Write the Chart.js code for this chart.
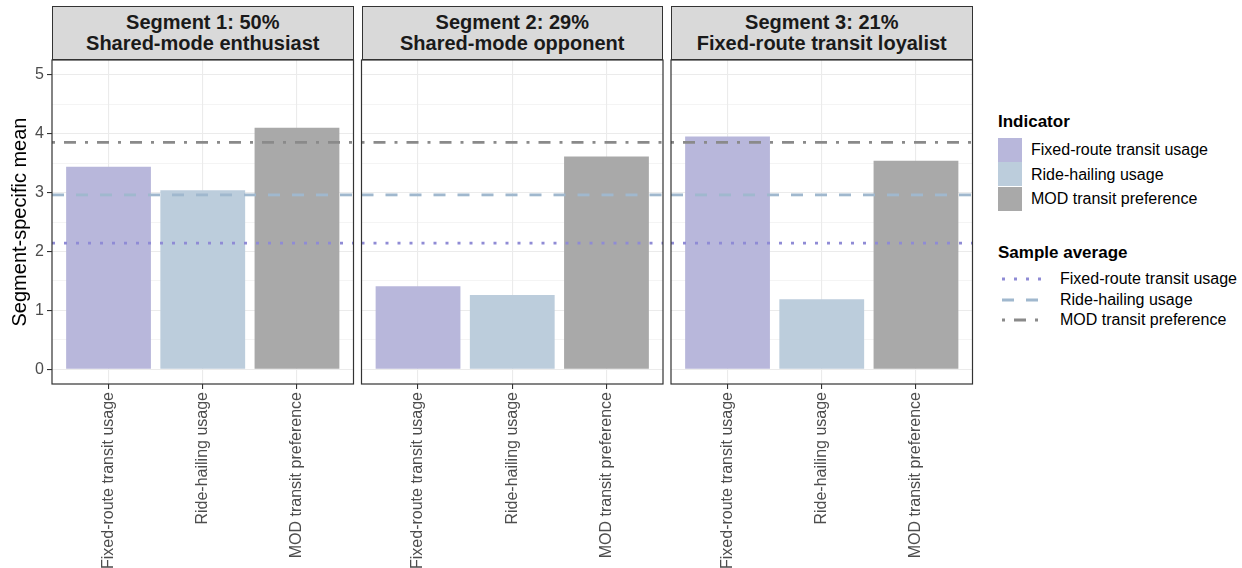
<!DOCTYPE html>
<html><head><meta charset="utf-8">
<script src="https://cdn.jsdelivr.net/npm/chart.js@4.4.1/dist/chart.umd.min.js"></script>
<style>
html,body{margin:0;padding:0;background:#fff;}
body{width:1242px;height:568px;overflow:hidden;position:relative;font-family:"Liberation Sans",Arial,sans-serif;}
.strip{position:absolute;top:6px;height:54px;box-sizing:border-box;border:1.2px solid #333;background:#d9d9d9;display:flex;flex-direction:column;justify-content:center;align-items:center;font-weight:bold;font-size:20px;line-height:21px;color:#1a1a1a;white-space:nowrap;}
canvas{position:absolute;}
.leg-title{position:absolute;left:998px;font-weight:bold;font-size:17px;line-height:17px;color:#000;white-space:nowrap;}
.leg-key{position:absolute;left:998px;width:24px;height:24px;}
.leg-lab{position:absolute;font-size:16px;line-height:16px;color:#000;white-space:nowrap;}
svg{position:absolute;}
</style></head><body>
<script>
// ---------- data ----------
const categories = ['Fixed-route transit usage', 'Ride-hailing usage', 'MOD transit preference'];
const segmentNames = ['Segment 1: 50%', 'Segment 2: 29%', 'Segment 3: 21%'];
const segmentLabels = ['Shared-mode enthusiast', 'Shared-mode opponent', 'Fixed-route transit loyalist'];
const segment1 = [3.44, 3.04, 4.10];
const segment2 = [1.41, 1.26, 3.61];
const segment3 = [3.95, 1.19, 3.54];
const sampleAverage = [2.14, 2.96, 3.85];
const yTicks = [0, 1, 2, 3, 4, 5];
const yMinorTicks = [0.5, 1.5, 2.5, 3.5, 4.5];
const yAxisTitle = 'Segment-specific mean';
const legendTitle1 = 'Indicator';
const legendTitle2 = 'Sample average';

// ---------- styles ----------
const barColors = ['#b8b7db', '#bccddc', '#a9a9a9'];
const lineColors = ['#8f8bd5', '#a0b8ce', '#8a8a8a'];
const lineDashes = [[3, 9], [12, 12], [3, 9, 12, 9]];
const FONT = '"Liberation Sans", Arial, sans-serif';
Chart.defaults.font.family = FONT;

const xMin = 0.4, xMax = 3.6, yMin = -0.25, yMax = 5.25;
const panelW = 301.5;
const panels = [
  {data: segment1, stripLeft: 52, canvasLeft: 0, canvasW: 358, offL: 52, withAxis: true},
  {data: segment2, stripLeft: 361.5, canvasLeft: 356, canvasW: 311, offL: 5.5, withAxis: false},
  {data: segment3, stripLeft: 671, canvasLeft: 666, canvasW: 311, offL: 5, withAxis: false}
];
const canvasTop = 50, canvasH = 518, padTop = 10, plotH = 324;

const borderPlugin = {
  id: 'panelBorder',
  afterDraw(chart) {
    const {left, top, right, bottom} = chart.chartArea;
    const ctx = chart.ctx;
    ctx.save();
    ctx.strokeStyle = '#333333';
    ctx.lineWidth = 1.2;
    ctx.strokeRect(left, top, right - left, bottom - top);
    ctx.restore();
  }
};

panels.forEach((p, idx) => {
  const strip = document.createElement('div');
  strip.className = 'strip';
  strip.style.left = p.stripLeft + 'px';
  strip.style.width = panelW + 'px';
  strip.innerHTML = '<div>' + segmentNames[idx] + '</div><div>' + segmentLabels[idx] + '</div>';
  document.body.appendChild(strip);

  const cv = document.createElement('canvas');
  cv.width = p.canvasW; cv.height = canvasH;
  cv.style.left = p.canvasLeft + 'px'; cv.style.top = canvasTop + 'px';
  cv.style.width = p.canvasW + 'px'; cv.style.height = canvasH + 'px';
  document.body.appendChild(cv);

  const lineSets = sampleAverage.map((v, i) => ({
    type: 'line',
    data: [{x: xMin, y: v}, {x: xMax, y: v}],
    borderColor: lineColors[i],
    borderDash: lineDashes[i],
    borderWidth: 2.8,
    borderCapStyle: 'butt',
    pointRadius: 0,
    fill: false,
    order: 0
  }));

  new Chart(cv, {
    type: 'bar',
    data: {
      datasets: [
        ...lineSets,
        {
          type: 'bar',
          data: p.data.map((v, i) => ({x: i + 1, y: v})),
          backgroundColor: barColors,
          borderWidth: 0,
          categoryPercentage: 1,
          barPercentage: 0.9,
          order: 1
        }
      ]
    },
    options: {
      responsive: false,
      animation: false,
      devicePixelRatio: 1,
      layout: {padding: {left: p.withAxis ? 0 : p.offL, right: p.canvasW - p.offL - panelW, top: padTop, bottom: 0}},
      plugins: {legend: {display: false}, tooltip: {enabled: false}},
      scales: {
        x: {
          type: 'linear',
          min: xMin, max: xMax,
          offset: false,
          afterBuildTicks: s => { s.ticks = categories.map((c, i) => ({value: i + 1})); },
          afterFit: s => { s.height = canvasH - padTop - plotH; s.paddingLeft = 0; s.paddingRight = 0; },
          border: {display: false},
          grid: {offset: false, color: '#ebebeb', lineWidth: 1.1, tickLength: 5, tickColor: '#333333', tickWidth: 1.1},
          ticks: {
            autoSkip: false, minRotation: 90, maxRotation: 90, padding: 3,
            color: '#4d4d4d', font: {size: 16},
            callback: v => categories[Math.round(v) - 1]
          }
        },
        y: {
          type: 'linear',
          min: yMin, max: yMax,
          afterBuildTicks: s => { s.ticks = [...yTicks, ...yMinorTicks].sort((a, b) => a - b).map(v => ({value: v})); },
          afterFit: s => { s.width = p.withAxis ? p.offL : 0; s.paddingTop = 0; s.paddingBottom = 0; },
          border: {display: false},
          title: {display: p.withAxis, text: yAxisTitle, color: '#000', font: {size: 20}, padding: {top: 8, bottom: 0}},
          grid: {
            color: '#ebebeb',
            lineWidth: c => yTicks.includes(c.tick.value) ? 1.1 : 0.55,
            drawTicks: p.withAxis,
            tickLength: 5,
            tickWidth: 1.1,
            tickColor: c => yTicks.includes(c.tick.value) ? '#333333' : 'rgba(0,0,0,0)'
          },
          ticks: {
            display: p.withAxis, autoSkip: false, padding: 3,
            color: '#4d4d4d', font: {size: 16},
            callback: v => yTicks.includes(v) ? String(v) : ''
          }
        }
      }
    },
    plugins: [borderPlugin]
  });
});

// ---------- legend ----------
function addText(cls, text, left, top) {
  const d = document.createElement('div');
  d.className = cls; d.textContent = text;
  if (left !== null) d.style.left = left + 'px';
  d.style.top = top + 'px';
  document.body.appendChild(d);
}
addText('leg-title', legendTitle1, null, 112.5);
const keyTops = [137.5, 162, 186.5];
categories.forEach((c, i) => {
  const k = document.createElement('div');
  k.className = 'leg-key';
  k.style.top = keyTops[i] + 'px';
  k.style.background = barColors[i];
  document.body.appendChild(k);
  addText('leg-lab', c, 1031, keyTops[i] + 4.5);
});
addText('leg-title', legendTitle2, null, 243.5);
const lineKeyY = [279, 300, 320];
categories.forEach((c, i) => {
  const svgNS = 'http://www.w3.org/2000/svg';
  const svg = document.createElementNS(svgNS, 'svg');
  svg.setAttribute('width', '46'); svg.setAttribute('height', '10');
  svg.style.left = '1000px'; svg.style.top = (lineKeyY[i] - 5) + 'px';
  const ln = document.createElementNS(svgNS, 'line');
  ln.setAttribute('x1', '2'); ln.setAttribute('x2', '44');
  ln.setAttribute('y1', '5'); ln.setAttribute('y2', '5');
  ln.setAttribute('stroke', lineColors[i]);
  ln.setAttribute('stroke-width', '2.8');
  ln.setAttribute('stroke-dasharray', lineDashes[i].join(' '));
  svg.appendChild(ln);
  document.body.appendChild(svg);
  addText('leg-lab', c, 1060, lineKeyY[i] - 7.8);
});
</script>
</body></html>
